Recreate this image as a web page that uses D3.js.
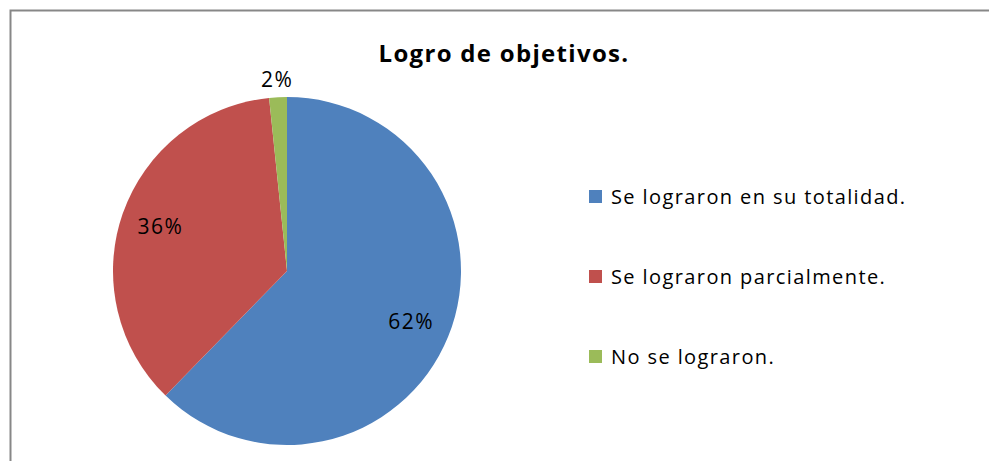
<!DOCTYPE html>
<html>
<head>
<meta charset="utf-8">
<script src="https://cdn.jsdelivr.net/npm/d3@7"></script>
<style>
  body { margin: 0; background: #fff; }
  text { font-family: "Open Sans", Lato, sans-serif; }
</style>
</head>
<body>
<svg id="chart"></svg>
<script>
var width = 989;
var height = 461;

// data
var categories = ["Se lograron en su totalidad.", "Se lograron parcialmente.", "No se lograron."];
var values = [38, 22, 1];
var colors = ["#4f81bd", "#c0504d", "#9bbb59"];
var title = "Logro de objetivos.";

var pieCenter = { x: 287, y: 271 };
var radius = 174;

var svg = d3.select("#chart")
  .attr("width", width)
  .attr("height", height);

// chart border
svg.append("rect")
  .attr("x", 10.5)
  .attr("y", 10.5)
  .attr("width", width + 20)
  .attr("height", height + 20)
  .style("fill", "none")
  .style("stroke", "#878787")
  .style("stroke-width", 2);

svg.append("text")
  .attr("x", 504)
  .attr("y", 62)
  .attr("text-anchor", "middle")
  .style("font-size", "24px")
  .style("font-weight", "bold")
  .style("letter-spacing", "1.3px")
  .text(title);

var total = d3.sum(values);
var pie = d3.pie().sort(null).value(function (d) { return d; });
var arc = d3.arc().innerRadius(0).outerRadius(radius);
var arcs = pie(values);

var g = svg.append("g")
  .attr("transform", "translate(" + pieCenter.x + "," + pieCenter.y + ")");

g.selectAll("path")
  .data(arcs)
  .enter()
  .append("path")
  .attr("d", arc)
  .style("fill", function (d, i) { return colors[i]; });

// label positions (inside for big slices, outside for the tiny one)
var labelArc = d3.arc().innerRadius(radius * 0.77).outerRadius(radius * 0.77);
var outerArc = d3.arc().innerRadius(radius + 18).outerRadius(radius + 18);

g.selectAll("text.pct")
  .data(arcs)
  .enter()
  .append("text")
  .attr("class", "pct")
  .attr("text-anchor", "middle")
  .attr("dy", "0.35em")
  .attr("transform", function (d) {
    var small = (d.endAngle - d.startAngle) < 0.2;
    var c = small ? outerArc.centroid(d) : labelArc.centroid(d);
    return "translate(" + c + ")";
  })
  .style("font-size", "21px")
  .style("letter-spacing", "1.5px")
  .style("fill", "#000")
  .text(function (d) { return Math.round(d.value / total * 100) + "%"; });

// legend
var legend = svg.selectAll("g.legend")
  .data(categories)
  .enter()
  .append("g")
  .attr("class", "legend")
  .attr("transform", function (d, i) {
    return "translate(589," + (197 + i * 80) + ")";
  });

legend.append("rect")
  .attr("x", 0)
  .attr("y", -7)
  .attr("width", 13)
  .attr("height", 13)
  .style("fill", function (d, i) { return colors[i]; });

legend.append("text")
  .attr("x", 22)
  .attr("y", 0)
  .attr("dy", "0.35em")
  .style("font-size", "20px")
  .style("letter-spacing", "1.4px")
  .text(function (d) { return d; });
</script>
</body>
</html>
